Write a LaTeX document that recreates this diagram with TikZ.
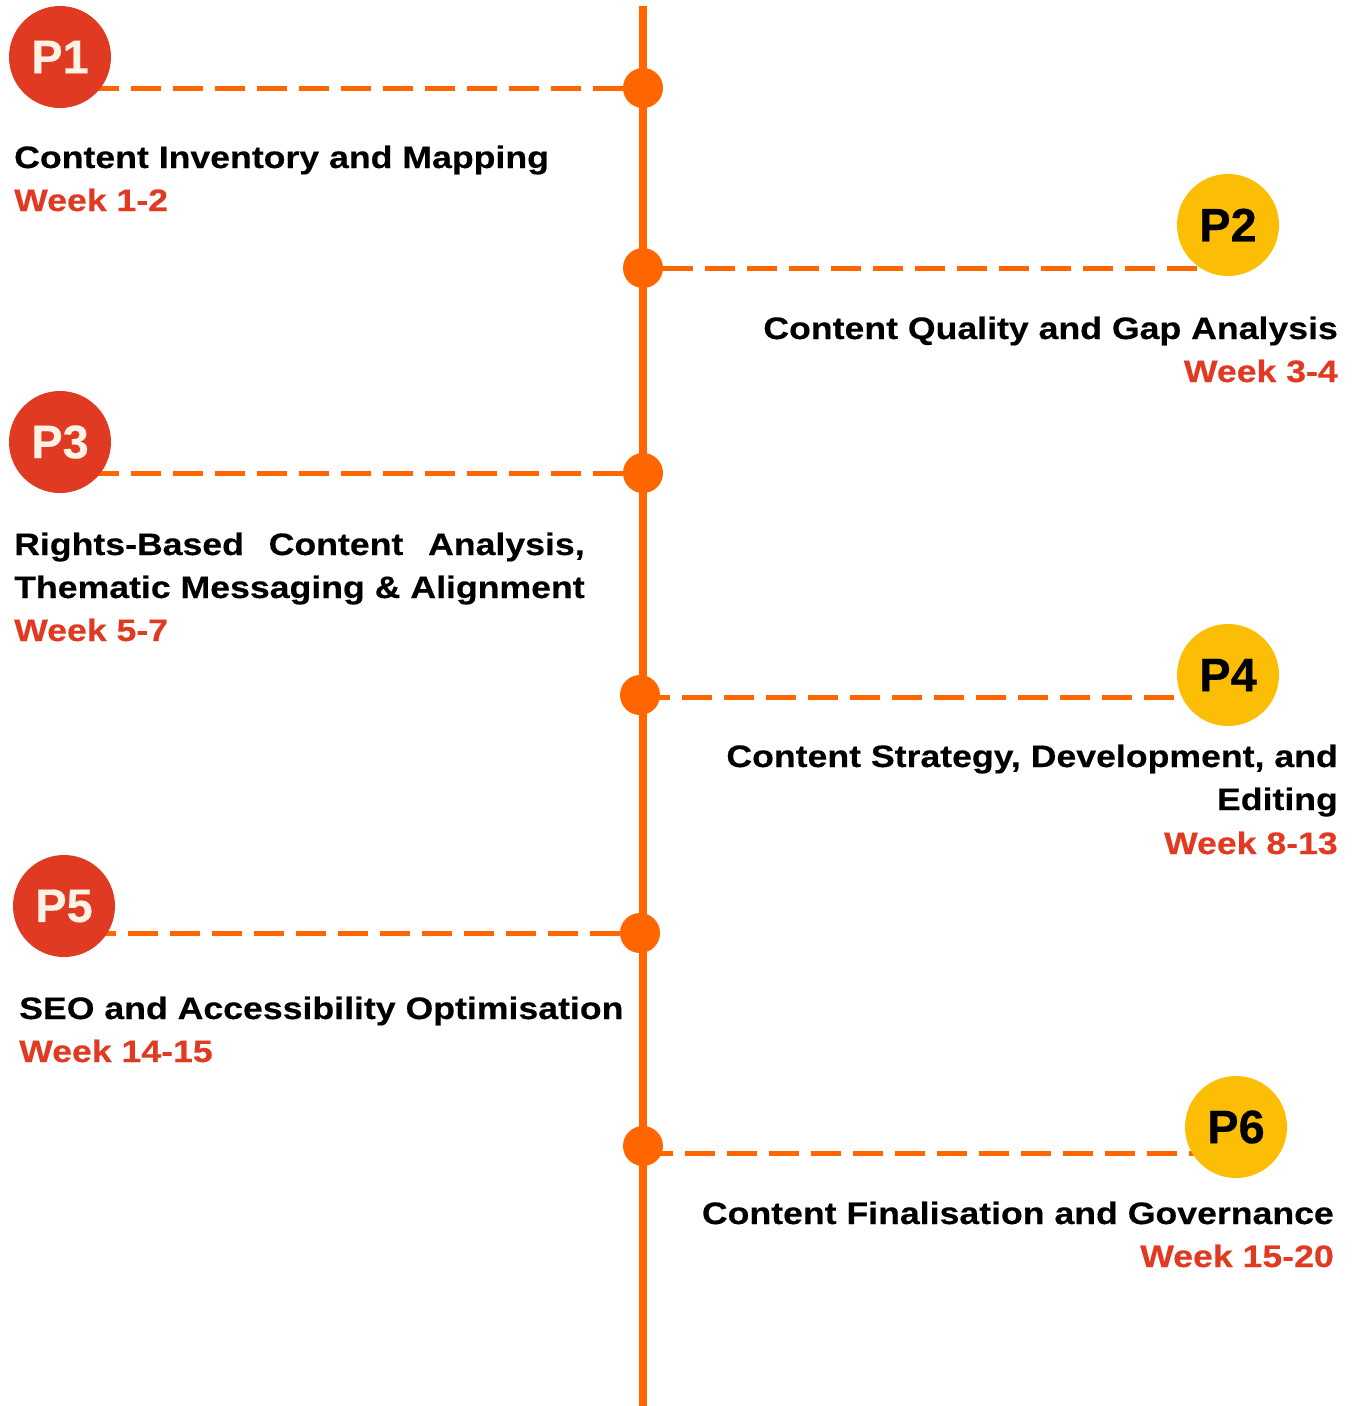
\documentclass[tikz,border=0pt]{standalone}
\usepackage{fontspec}
\setmainfont{Liberation Sans}[FakeStretch=1.15, BoldFeatures={FakeBold=0.4}]
\newfontfamily\badgefont{Liberation Sans}[BoldFeatures={FakeBold=0.4}]
\usetikzlibrary{positioning}
\definecolor{track}{RGB}{255,102,0}
\definecolor{brick}{RGB}{224,58,34}
\definecolor{amber}{RGB}{252,190,5}
\definecolor{cream}{RGB}{255,241,228}
\newlength\firstwd

\begin{document}
\begin{tikzpicture}[
  x=1pt, y=-1pt,
  every node/.style={inner sep=0pt},
  phase/.style={circle, minimum size=102pt, font=\badgefont\fontsize{47}{47}\selectfont\bfseries},
  redphase/.style={phase, fill=brick, text=cream},
  goldphase/.style={phase, fill=amber, text=black},
  dot/.style={circle, fill=track, minimum size=40pt},
  link/.style={track, line width=5pt, dash pattern=on 30pt off 12pt},
  title/.style={font=\fontsize{31}{44}\selectfont\bfseries, text=black},
  week/.style={font=\fontsize{31}{44}\selectfont\bfseries, text=brick}]
\useasboundingbox (0,0) rectangle (1359,1406);
% the timeline itself
\coordinate (top) at (643,6);
\coordinate (bottom) at (643,1406);
\draw[track, line width=8pt] (top) -- (bottom);

% dots on the line
\node[dot] (d1) at (643,88) {};
\node[dot] (d2) at (643,268) {};
\node[dot] (d3) at (643,473) {};
\node[dot] (d4) at (640,695) {};
\node[dot] (d5) at (640,933) {};
\node[dot] (d6) at (643,1146) {};

% phase badges
\coordinate (c1) at (60,57);
\coordinate (c2) at (1228,225);
\coordinate (c3) at (60,442);
\coordinate (c4) at (1228,675);
\coordinate (c5) at (64,906);
\coordinate (c6) at (1236,1127);
\draw[link] (d1) -- (c1 |- d1);
\draw[link] (d2) -- (c2 |- d2);
\draw[link] (d3) -- (c3 |- d3);
\draw[link] ([yshift=-2pt]d4.center) -- ([yshift=-2pt]c4 |- d4);
\draw[link] (d5) -- (c5 |- d5);
\draw[link] ([yshift=-7pt]d6.center) -- ([yshift=-7pt]c6 |- d6);
\node[redphase] (p1) at (c1) {P1};
\node[goldphase] (p2) at (c2) {P2};
\node[redphase] (p3) at (c3) {P3};
\node[goldphase] (p4) at (c4) {P4};
\node[redphase] (p5) at (c5) {P5};
\node[goldphase] (p6) at (c6) {P6};

% phase titles and weeks
\node[title, anchor=base west] (t1) at (14,168) {Content Inventory and Mapping};
\node[week, anchor=base west] (w1) at (14,211) {Week 1-2};
\node[title, anchor=base east] (t2) at (1338,339) {Content Quality and Gap Analysis};
\node[week, anchor=base east] (w2) at (1338,382) {Week 3-4};
\node[title, anchor=base west] (t3a) at (14,555) {\settowidth{\firstwd}{Thematic Messaging \& Alignment}\makebox[\firstwd][s]{Rights-Based Content Analysis,}};
\node[title, anchor=base west] (t3b) at (14,598) {Thematic Messaging \& Alignment};
\node[week, anchor=base west] (w3) at (14,641) {Week 5-7};
\node[title, anchor=base east] (t4a) at (1338,767) {Content Strategy, Development, and};
\node[title, anchor=base east] (t4b) at (1338,810) {Editing};
\node[week, anchor=base east] (w4) at (1338,854) {Week 8-13};
\node[title, anchor=base west] (t5) at (19,1019) {SEO and Accessibility Optimisation};
\node[week, anchor=base west] (w5) at (19,1062) {Week 14-15};
\node[title, anchor=base east] (t6) at (1334,1224) {Content Finalisation and Governance};
\node[week, anchor=base east] (w6) at (1334,1267) {Week 15-20};
\end{tikzpicture}
\end{document}
